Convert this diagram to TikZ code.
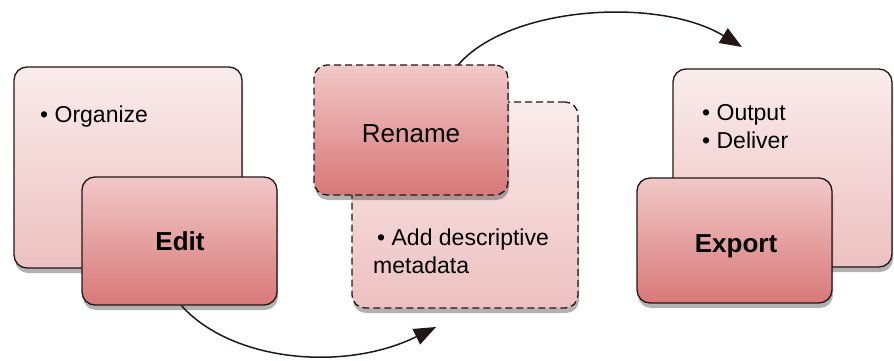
\documentclass[tikz,border=0pt]{standalone}
\usepackage{fontspec}
\setmainfont{Liberation Sans}
\usetikzlibrary{arrows.meta,shadows}
\definecolor{edgec}{RGB}{35,22,22}
\definecolor{backtop}{RGB}{250,236,236}
\definecolor{backbot}{RGB}{237,192,192}
\definecolor{fronttop}{RGB}{242,200,200}
\definecolor{frontbot}{RGB}{216,120,120}
\tikzset{
  boxbase/.style={rounded corners=13pt, draw=edgec, line width=1.3pt, inner sep=0pt,
    drop shadow={shadow xshift=1pt, shadow yshift=-5pt, opacity=0.3, fill=black}},
  backbox/.style={boxbase, top color=backtop, bottom color=backbot},
  frontbox/.style={boxbase, top color=fronttop, bottom color=frontbot},
  dashbox/.style={dash pattern=on 7pt off 4pt},
  bullettext/.style={font=\fontsize{23}{28}\selectfont, align=left, inner sep=0pt, anchor=base west, text=black},
  titletext/.style={font=\fontsize{26}{30}\selectfont, inner sep=0pt, anchor=base, text=black},
  flowarrow/.style={draw=edgec, line width=1.5pt, -{Triangle[length=22pt,width=17pt]}}
}
\begin{document}
\begin{tikzpicture}[x=1pt,y=-1pt]
\useasboundingbox (0,0) rectangle (894,361);
% left group
\node[backbox, minimum width=228pt, minimum height=201pt] (orgbox) at (128,167.5) {};
\node[bullettext] (orgtext) at (40,122) {• Organize};
\node[frontbox, minimum width=195pt, minimum height=128pt] (editbox) at (179.5,241) {};
\node[titletext, font=\fontsize{26}{30}\selectfont\bfseries] (edittext) at (180,250) {Edit};
% middle group
\node[backbox, dashbox, minimum width=226pt, minimum height=206pt] (metabox) at (465,205) {};
\node[bullettext] (metatext) at (373,273) {\hspace*{4pt}• Add descriptive\\metadata};
\node[frontbox, dashbox, minimum width=194pt, minimum height=130pt] (renbox) at (411,130) {};
\node[titletext] (rentext) at (411,142) {Rename};
% right group
\node[backbox, minimum width=219pt, minimum height=198pt] (outbox) at (782.5,168) {};
\node[bullettext] (outtext) at (702,148) {• Output\\• Deliver};
\node[frontbox, minimum width=195pt, minimum height=125pt] (expbox) at (734.5,240.5) {};
\node[titletext, font=\fontsize{26}{30}\selectfont\bfseries] (exptext) at (736,252) {Export};
% arrows
\coordinate (tip1) at (436,327);
\coordinate (start2) at (458,65);
\coordinate (tip2) at (742,47);
\draw[flowarrow] ([xshift=2pt]editbox.south) .. controls (232,362) and (345,372) .. (tip1);
\draw[flowarrow] (start2) .. controls (510,5) and (660,-3) .. (tip2);
\end{tikzpicture}
\end{document}
